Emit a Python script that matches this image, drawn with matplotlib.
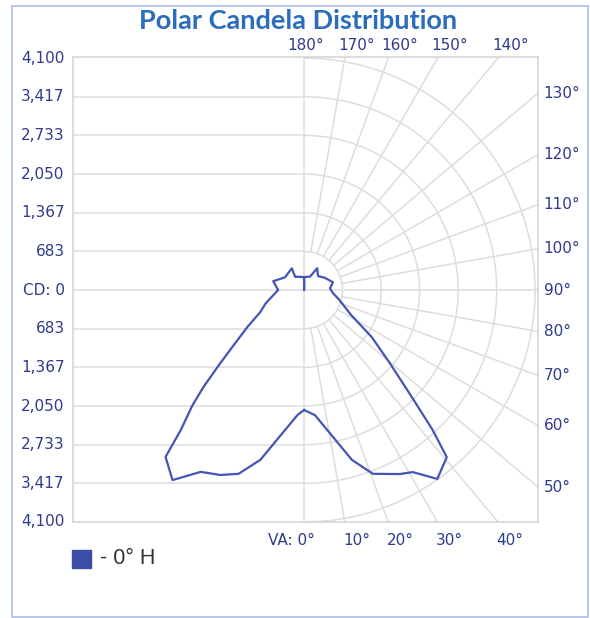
import numpy as np
import matplotlib

matplotlib.use('agg')

import matplotlib.pyplot as plt
from matplotlib.patches import Rectangle

# radial scale and tick labels
cd_max = 4100
cd_step = 683.33
left_labels = ['4,100', '3,417', '2,733', '2,050', '1,367', '683', 'CD: 0',
               '683', '1,367', '2,050', '2,733', '3,417', '4,100']
angle_ticks = list(range(10, 180, 10))

# 0° H plane, right half (vertical angle, candela)
va_right = [0, 5, 15.8, 20.6, 27.6, 30.9, 35.3, 40.6, 42.7, 45.3, 49.7, 55.3,
            62, 75, 84, 94, 105, 120, 135, 149, 156, 180, 180]
cd_right = [2120, 2220, 3120, 3470, 3670, 3750, 4090, 3890, 3360, 2690, 1990, 1460,
            950, 640, 515, 460, 530, 430, 350, 450, 260, 230, 0]

# opposite half, drawn on the left
va_left = [0, 3, 14.5, 19.7, 24.4, 29.7, 34.8, 39.8, 41.5, 44.2, 46.2, 49, 52.5,
           57, 63.4, 71, 84, 90, 106, 115, 124, 150.5, 146, 180]
cd_left = [2120, 2210, 3100, 3450, 3590, 3700, 4090, 3840, 3300, 2840, 2470, 1970, 1540,
           1200, 870, 720, 515, 460, 570, 466, 407, 441, 284, 230]

W, H = 590, 618
fig = plt.figure(figsize=(W / 100, H / 100), dpi=100)

# plot box in pixels: left 73, right 538, top 57, bottom 522
ax = fig.add_axes([73 / W, 1 - 522 / H, 465 / W, 465 / H])
xmin, xmax = -4100, 4150
ymin, ymax = -4100, 4120
ax.set_xlim(xmin, xmax)
ax.set_ylim(ymin, ymax)
ax.set_xticks([])
ax.set_yticks([])
for s in ax.spines.values():
    s.set_color('#d6d6d6')
    s.set_linewidth(1.2)

grid = dict(color='#dddddd', lw=1.1, zorder=1)
label_color = '#2e3a8c'
tick_font = dict(color=label_color, fontsize=11, family='DejaVu Sans')

# left half: horizontal lines
for k in range(1, 6):
    for sgn in (1, -1):
        ax.plot([xmin, 0], [sgn * k * cd_step] * 2, **grid)
ax.axhline(0, **grid)
ax.axvline(0, **grid)

# right half: arcs and radial lines
t = np.linspace(0, np.pi, 200)
for k in range(1, 7):
    r = k * cd_step
    ax.plot(r * np.sin(t), -r * np.cos(t), **grid)
for a in angle_ticks:
    if a == 90:
        continue
    th = np.radians(a)
    ax.plot([cd_step * np.sin(th), 9000 * np.sin(th)],
            [-cd_step * np.cos(th), -9000 * np.cos(th)], **grid)

# left labels
for i, lab in enumerate(left_labels):
    y = cd_max - i * cd_step
    ax.annotate(lab, (xmin, y), xytext=(-6, 0), textcoords='offset points',
                ha='right', va='center', annotation_clip=False, **tick_font)

# angle labels around the box
for a in angle_ticks:
    th = np.radians(a)
    sx, cy = np.sin(th), -np.cos(th)
    if a < 45:
        x = ymin / cy * sx
        ax.annotate('%d°' % a, (x, ymin), xytext=(-1, -8), textcoords='offset points',
                    ha='left', va='top', annotation_clip=False, **tick_font)
    elif a > 135:
        x = ymax / cy * sx
        ax.annotate('%d°' % a, (x, ymax), xytext=(-5, 3), textcoords='offset points',
                    ha='left', va='bottom', annotation_clip=False, **tick_font)
    else:
        y = xmax / sx * cy
        ax.annotate('%d°' % a, (xmax, y), xytext=(4, 0), textcoords='offset points',
                    ha='left', va='center', annotation_clip=False, **tick_font)
ax.annotate('VA: 0°', (0, ymin), xytext=(-9, -8), textcoords='offset points',
            ha='center', va='top', annotation_clip=False, **tick_font)
ax.annotate('180°', (0, ymax), xytext=(1, 3), textcoords='offset points',
            ha='center', va='bottom', annotation_clip=False, **tick_font)

# candela curve
tr = np.radians(va_right)
tl = np.radians(va_left[::-1])
xs = np.concatenate([np.array(cd_right) * np.sin(tr), -np.array(cd_left[::-1]) * np.sin(tl)])
ys = np.concatenate([-np.array(cd_right) * np.cos(tr), -np.array(cd_left[::-1]) * np.cos(tl)])
ax.plot(xs, ys, color='#4455b6', lw=1.6, zorder=3, solid_joinstyle='round')

# title
fig.text(298 / W, 1 - 21 / H, 'Polar Candela Distribution', ha='center', va='center',
         fontsize=19.5, fontweight='bold', color='#2b6cbc', family='Lato')

# legend
fig.patches.append(Rectangle((72 / W, 1 - 568 / H), 19 / W, 18 / H,
                             transform=fig.transFigure, color='#3a4ea6'))
fig.text(100 / W, 1 - 559 / H, '- 0° H', ha='left', va='center',
         fontsize=15.5, color='#333333', family='Liberation Sans')

# outer frame
fig.patches.append(Rectangle((12 / W, 1 - 617 / H), 576 / W, 611 / H,
                             transform=fig.transFigure, fill=False,
                             edgecolor='#a9bbe6', lw=1.2))

fig.savefig('out.png', dpi=100)
